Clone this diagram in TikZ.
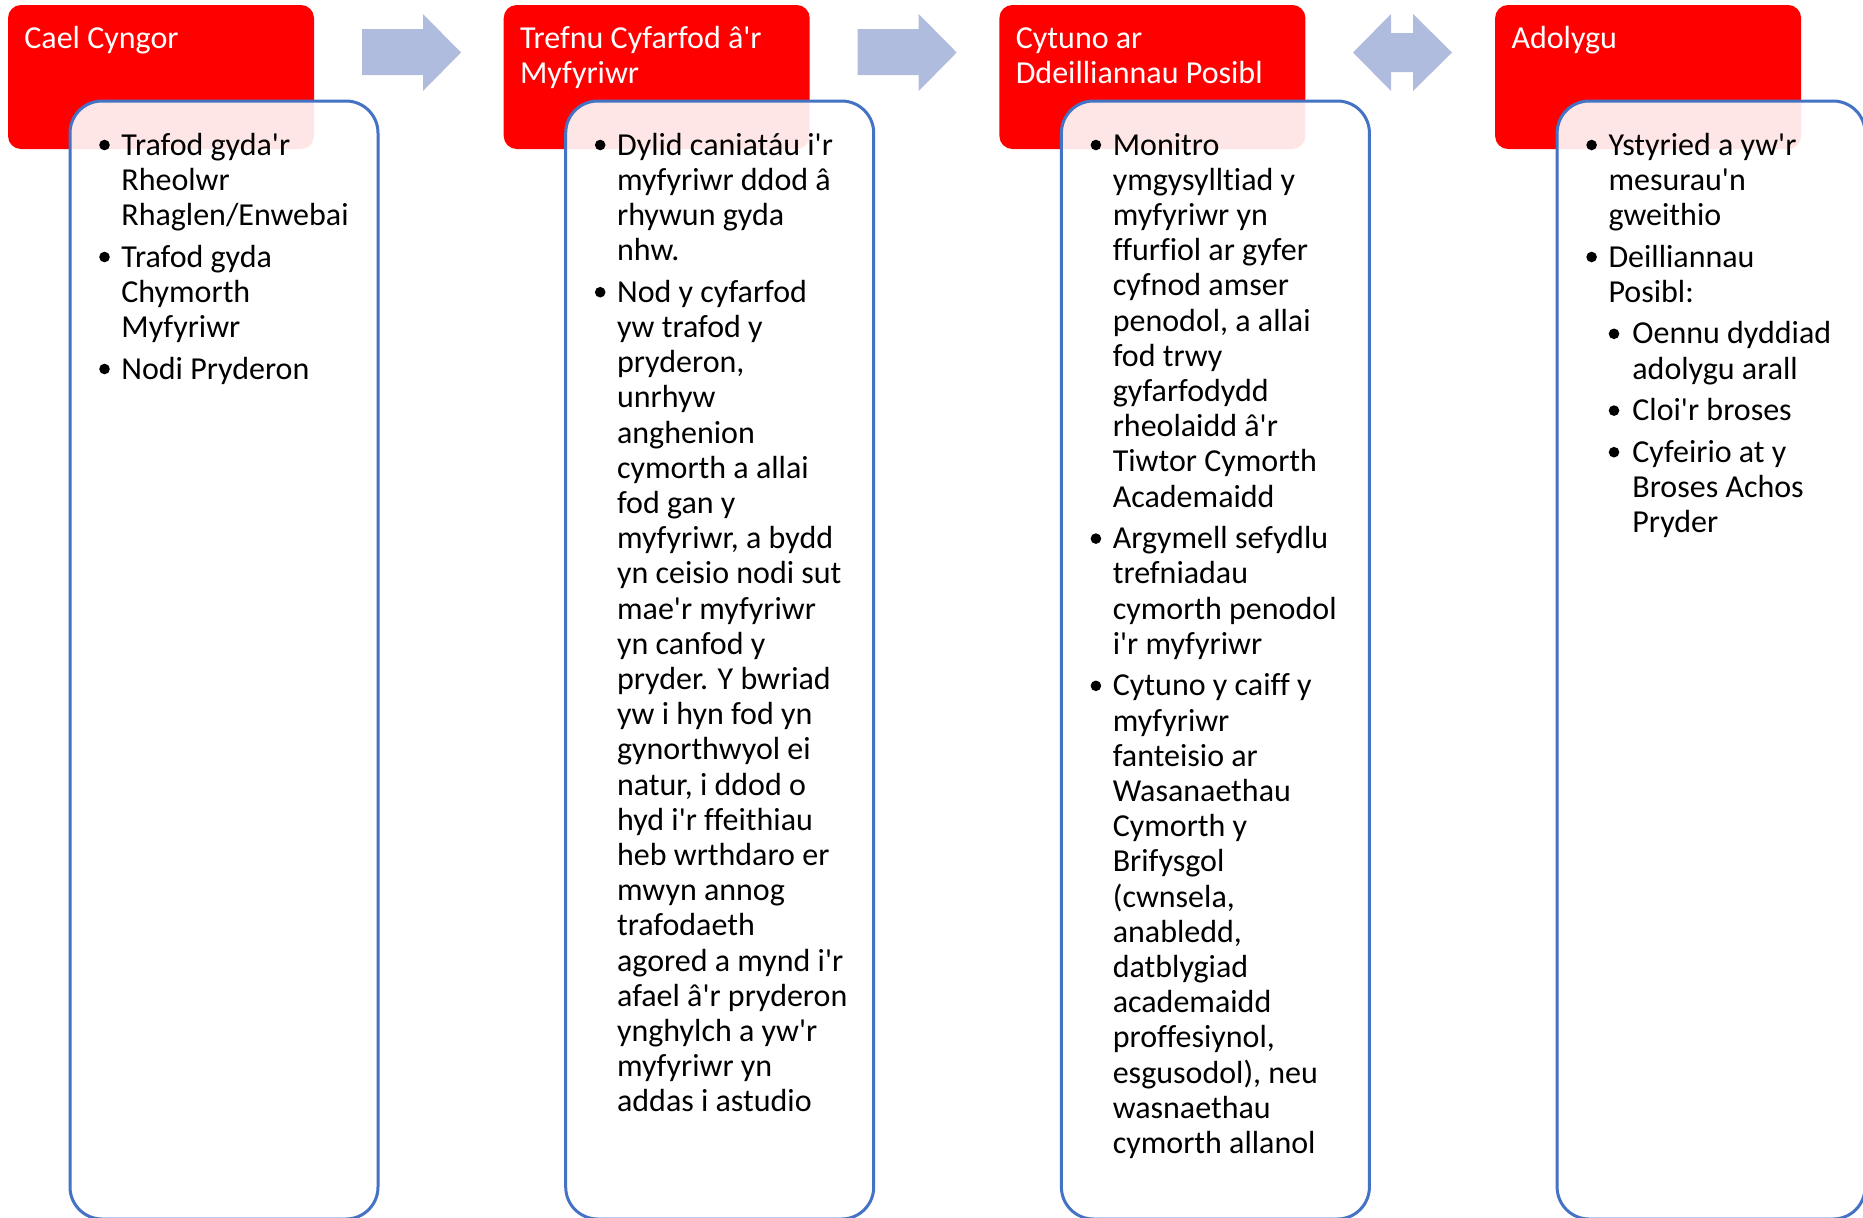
\documentclass[tikz,border=0pt]{standalone}
\usepackage{fontspec}
\setmainfont{Carlito}[Ligatures={TeXOff,CommonOff}]
\definecolor{stepred}{RGB}{255,0,0}
\definecolor{stepblue}{RGB}{68,114,196}
\definecolor{arrowblue}{RGB}{176,188,222}
\tikzset{
	item/.style={anchor=base west, inner sep=0pt, align=left, font=\fontsize{16}{17.6}\selectfont},
	head/.style={item, text=white},
}
\def\bdot(#1,#2){\fill ({#1},{#2-10}) circle (5.3);}

\begin{document}
\begin{tikzpicture}[x=0.5pt, y=-0.5pt]
		%%%%% START %%%%%
		\useasboundingbox (0,0) rectangle (1863,1217);
		
		\fill[stepred, rounded corners=6.5pt] (8,5) rectangle (314,149);
		\fill[stepred, rounded corners=6.5pt] (503.7,5) rectangle (809.7,149);
		\fill[stepred, rounded corners=6.5pt] (999.4,5) rectangle (1305.4,149);
		\fill[stepred, rounded corners=6.5pt] (1495.1,5) rectangle (1801.1,149);
		
		\node[head] (cael) at (24,48) {Cael Cyngor};
		\node[head] (trefnu) at (519.7,48+35.2) {Trefnu Cyfarfod â'r\\Myfyriwr};
		\node[head] (cytuno) at (1015.4,48+35.2) {Cytuno ar\\Ddeilliannau Posibl};
		\node[head] (adolygu) at (1511.1,48) {Adolygu};
		
		\draw[stepblue, line width=1.5pt, fill=white, fill opacity=0.9, rounded corners=16pt] (70,101) rectangle (378,1219);
		\draw[stepblue, line width=1.5pt, fill=white, fill opacity=0.9, rounded corners=16pt] (565.7,101) rectangle (873.7,1219);
		\draw[stepblue, line width=1.5pt, fill=white, fill opacity=0.9, rounded corners=16pt] (1061.4,101) rectangle (1369.4,1219);
		\draw[stepblue, line width=1.5pt, fill=white, fill opacity=0.9, rounded corners=16pt] (1557.1,101) rectangle (1865.1,1219);
		
		\fill[arrowblue] (362,29) -- (423,29) -- (423,14) -- (461,52.5) -- (423,91) -- (423,75) -- (362,75) -- cycle;
		\fill[arrowblue] (857.7,29) -- (918.7,29) -- (918.7,14) -- (956.7,52.5) -- (918.7,91) -- (918.7,75) -- (857.7,75) -- cycle;
		\fill[arrowblue] (1353,52.5) -- (1391,14) -- (1391,33) -- (1413,33) -- (1413,14) -- (1452,52.5) -- (1413,91) -- (1413,72) -- (1391,72) -- (1391,91) -- cycle;
		
		\bdot(104.5,155)
		\node[item] (cael1) at (121,155+2*35.2) {Trafod gyda'r\\Rheolwr\\Rhaglen/Enwebai};
		\bdot(104.5,267)
		\node[item] (cael2) at (121,267+2*35.2) {Trafod gyda\\Chymorth\\Myfyriwr};
		\bdot(104.5,379)
		\node[item] (cael3) at (121,379) {Nodi Pryderon};
		
		\bdot(600.2,155)
		\node[item] (trefnu1) at (616.7,155+3*35.2) {Dylid caniatáu i'r\\myfyriwr ddod â\\rhywun gyda\\nhw.};
		\bdot(600.2,302.2)
		\node[item] (trefnu2) at (616.7,302.2+23*35.2) {Nod y cyfarfod\\yw trafod y\\pryderon,\\unrhyw\\anghenion\\cymorth a allai\\fod gan y\\myfyriwr, a bydd\\yn ceisio nodi sut\\mae'r myfyriwr\\yn canfod y\\pryder. Y bwriad\\yw i hyn fod yn\\gynorthwyol ei\\natur, i ddod o\\hyd i'r ffeithiau\\heb wrthdaro er\\mwyn annog\\trafodaeth\\agored a mynd i'r\\afael â'r pryderon\\ynghylch a yw'r\\myfyriwr yn\\addas i astudio};
		
		\bdot(1095.9,155)
		\node[item] (cytuno1) at (1112.4,155+10*35.2) {Monitro\\ymgysylltiad y\\myfyriwr yn\\ffurfiol ar gyfer\\cyfnod amser\\penodol, a allai\\fod trwy\\gyfarfodydd\\rheolaidd â'r\\Tiwtor Cymorth\\Academaidd};
		\bdot(1095.9,548.6)
		\node[item] (cytuno2) at (1112.4,548.6+3*35.2) {Argymell sefydlu\\trefniadau\\cymorth penodol\\i'r myfyriwr};
		\bdot(1095.9,695.8)
		\node[item] (cytuno3) at (1112.4,695.8+13*35.2) {Cytuno y caiff y\\myfyriwr\\fanteisio ar\\Wasanaethau\\Cymorth y\\Brifysgol\\(cwnsela,\\anabledd,\\datblygiad\\academaidd\\proffesiynol,\\esgusodol), neu\\wasnaethau\\cymorth allanol};
		
		\bdot(1591.6,155)
		\node[item] (adolygu1) at (1608.1,155+2*35.2) {Ystyried a yw'r\\mesurau'n\\gweithio};
		\bdot(1591.6,267)
		\node[item] (adolygu2) at (1608.1,267+35.2) {Deilliannau\\Posibl:};
		\bdot(1614,343.8)
		\node[item] (adolygu3) at (1632,343.8+35.2) {Oennu dyddiad\\adolygu arall};
		\bdot(1614,420.6)
		\node[item] (adolygu4) at (1632,420.6) {Cloi'r broses};
		\bdot(1614,462.2)
		\node[item] (adolygu5) at (1632,462.2+2*35.2) {Cyfeirio at y\\Broses Achos\\Pryder};
		
		%%%%% END %%%%%
\end{tikzpicture}
\end{document}
